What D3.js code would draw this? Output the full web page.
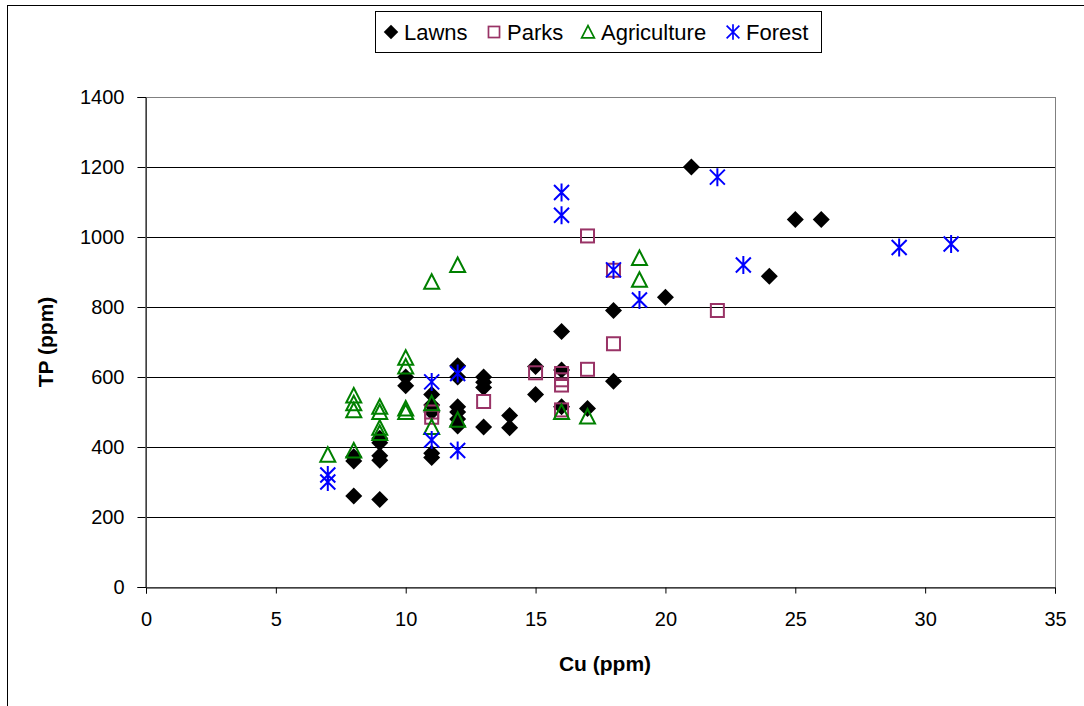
<!DOCTYPE html>
<html lang="en">
<head>
<meta charset="utf-8">
<script src="https://d3js.org/d3.v7.min.js"></script>
<title>TP vs Cu</title>
<style>
    body { margin: 0; background: #fff; }
    svg text { font-family: "Liberation Sans", Arial, sans-serif; }
</style>
</head>
<body>
<div id="chart"></div>
<script>
// Cu (ppm) / TP (ppm) pairs per land use
const lawnsCu = [8, 8, 8, 9, 9, 9, 9, 9, 10, 10, 11, 11, 11, 11, 11, 12, 12, 12, 12, 12, 12, 13, 13, 13, 13, 14, 14, 15, 15, 16, 16, 16, 17, 18, 18, 20, 21, 24, 25, 26];
const lawnsTP = [260, 360, 372, 250, 362, 375, 412, 425, 575, 600, 370, 382, 500, 520, 550, 460, 480, 500, 515, 600, 632, 457, 570, 585, 600, 455, 490, 550, 630, 515, 620, 730, 510, 588, 790, 828, 1200, 888, 1050, 1050];

const parksCu = [11, 11, 13, 15, 16, 16, 16, 16, 17, 17, 18, 18, 22];
const parksTP = [500, 485, 530, 612, 610, 592, 577, 506, 622, 1003, 695, 905, 790];

const agriCu = [7, 8, 8, 8, 8, 9, 9, 9, 9, 10, 10, 10, 10, 11, 11, 11, 12, 12, 16, 17, 19, 19];
const agriTP = [378, 390, 505, 525, 547, 440, 455, 500, 515, 500, 510, 630, 655, 457, 525, 872, 478, 920, 500, 487, 878, 940];

const forestCu = [7, 7, 11, 11, 12, 12, 16, 16, 18, 19, 22, 23, 29, 31];
const forestTP = [300, 320, 420, 586, 390, 610, 1062, 1127, 906, 820, 1171, 920, 970, 980];

const seriesNames = ["Lawns", "Parks", "Agriculture", "Forest"];
const xTicks = [0, 5, 10, 15, 20, 25, 30, 35];
const yTicks = [0, 200, 400, 600, 800, 1000, 1200, 1400];

const W = 1084, H = 706;
const plot = {left: 146, right: 1055, top: 97, bottom: 587};

const svg = d3.select("#chart").append("svg")
    .attr("width", W).attr("height", H);

// outer chart frame
svg.append("rect")
    .attr("x", 7.5).attr("y", 5.5)
    .attr("width", 1090).attr("height", 720)
    .attr("fill", "#fff").attr("stroke", "#000");

const x = d3.scaleLinear().domain([0, 35]).range([plot.left, plot.right]);
const y = d3.scaleLinear().domain([0, 1400]).range([plot.bottom, plot.top]);

// gridlines
svg.append("g").selectAll("line")
    .data(yTicks.filter(t => t > 0 && t < 1400))
    .join("line")
    .attr("x1", plot.left).attr("x2", plot.right)
    .attr("y1", d => Math.round(y(d)) + 0.5).attr("y2", d => Math.round(y(d)) + 0.5)
    .attr("stroke", "#000").attr("stroke-width", 1);

// plot border
svg.append("rect")
    .attr("x", plot.left + 0.5).attr("y", plot.top + 0.5)
    .attr("width", plot.right - plot.left).attr("height", plot.bottom - plot.top)
    .attr("fill", "none").attr("stroke", "#808080");

// axes
const xAxis = svg.append("g")
    .attr("transform", `translate(0,${plot.bottom + 0.5})`)
    .call(d3.axisBottom(x).tickValues(xTicks).tickFormat(d3.format("d")).tickSize(6).tickPadding(18));
const yAxis = svg.append("g")
    .attr("transform", `translate(${plot.left - 0.5},0)`)
    .call(d3.axisLeft(y).tickValues(yTicks).tickFormat(d3.format("d")).tickSize(8).tickPadding(13));

[xAxis, yAxis].forEach(g => {
    g.select(".domain").attr("stroke", "#000");
    g.selectAll(".tick line").attr("stroke", "#000");
    g.selectAll(".tick text")
        .attr("fill", "#000")
        .style("font-size", "20px");
});

// axis titles
svg.append("text")
    .attr("x", 605).attr("y", 671)
    .attr("text-anchor", "middle")
    .style("font-size", "21px").style("font-weight", "bold")
    .text("Cu (ppm)");
svg.append("text")
    .attr("transform", "translate(53,342) rotate(-90)")
    .attr("text-anchor", "middle")
    .style("font-size", "21px").style("font-weight", "bold")
    .text("TP (ppm)");

// marker shapes
function diamond(g) {
    g.append("path").attr("d", "M0,-8.5L8.5,0L0,8.5L-8.5,0Z").attr("fill", "#000");
}
function square(g) {
    g.append("rect").attr("x", -6.5).attr("y", -6.5).attr("width", 13).attr("height", 13)
        .attr("fill", "none").attr("stroke", "#993366").attr("stroke-width", 2);
}
function triangle(g) {
    g.append("path").attr("d", "M0,-7.5L7.5,7L-7.5,7Z")
        .attr("fill", "none").attr("stroke", "#008000").attr("stroke-width", 2);
}
function asterisk(g) {
    g.append("path").attr("d", "M0,-9V9M-7.5,-7.5L7.5,7.5M-7.5,7.5L7.5,-7.5")
        .attr("stroke", "#0000ff").attr("stroke-width", 2).attr("fill", "none");
}

const series = [
    {cu: lawnsCu, tp: lawnsTP, draw: diamond},
    {cu: parksCu, tp: parksTP, draw: square},
    {cu: agriCu, tp: agriTP, draw: triangle},
    {cu: forestCu, tp: forestTP, draw: asterisk}
];

series.forEach(s => {
    const pts = s.cu.map((c, i) => ({c: c, t: s.tp[i]}));
    svg.append("g").selectAll("g")
        .data(pts)
        .join("g")
        .attr("transform", d => `translate(${x(d.c)},${y(d.t)})`)
        .each(function() { s.draw(d3.select(this)); });
});

// legend
const legend = svg.append("g");
legend.append("rect")
    .attr("x", 375.5).attr("y", 11.5).attr("width", 446).attr("height", 41)
    .attr("fill", "#fff").attr("stroke", "#000");
const legendX = [391, 494, 588, 733];
seriesNames.forEach((name, i) => {
    const item = legend.append("g").attr("transform", `translate(${legendX[i]},32)`);
    const m = item.append("g").attr("transform", "scale(0.85)");
    series[i].draw(m);
    item.append("text")
        .attr("x", 13).attr("y", 7.5)
        .style("font-size", "22px")
        .text(name);
});
</script>
</body>
</html>
